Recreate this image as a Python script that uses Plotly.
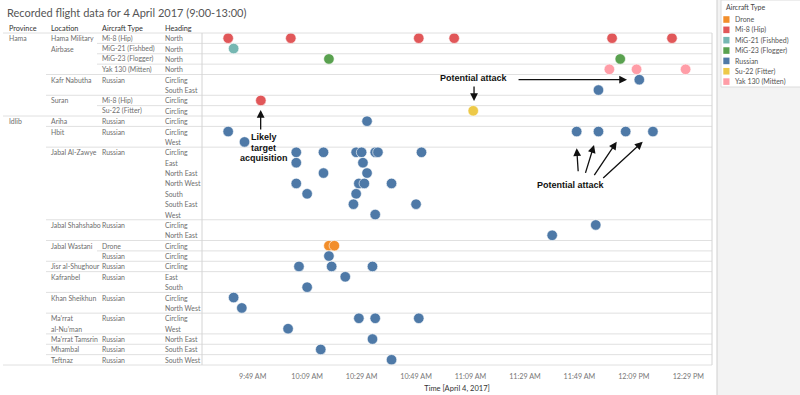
import plotly.graph_objects as go

DATE = "2017-04-04"

# ---- table rows (one entry per chart row, top to bottom) ----
provinces = ["Hama"] * 8 + ["Idlib"] * 24
locations = (["Hama Military Airbase"] * 4 + ["Kafr Nabutha"] * 2 + ["Suran"] * 2
             + ["Ariha"] + ["Hbit"] * 2 + ["Jabal Al-Zawye"] * 7 + ["Jabal Shahshabo"] * 2
             + ["Jabal Wastani"] * 2 + ["Jisr al-Shughour"] + ["Kafranbel"] * 2
             + ["Khan Sheikhun"] * 2 + ["Ma’rrat al-Nu’man"] * 2
             + ["Ma’rrat Tamsrin", "Mhambal", "Teftnaz"])
aircraft = (["Mi-8 (Hip)", "MiG-21 (Fishbed)", "MiG-23 (Flogger)", "Yak 130 (Mitten)",
             "Russian", "Russian", "Mi-8 (Hip)", "Su-22 (Fitter)", "Russian", "Russian", "Russian"]
            + ["Russian"] * 9 + ["Drone"] + ["Russian"] * 11)
headings = ["North"] * 4 + [
    "Circling", "South East", "Circling", "Circling", "Circling", "Circling", "West",
    "Circling", "East", "North East", "North West", "South", "South East", "West",
    "Circling", "North East", "Circling", "Circling", "Circling", "East", "South",
    "Circling", "North West", "Circling", "West", "North East", "South East", "South West"]
location_lines = {"Hama Military Airbase": ["Hama Military", "Airbase"],
                  "Ma’rrat al-Nu’man": ["Ma’rrat", "al-Nu’man"]}

# ---- observations per aircraft type: row number (1 = top) and time ----
drone_rows = [21, 21]
drone_times = ["10:17", "10:19"]
mi8_rows = [1, 1, 1, 1, 1, 1, 7]
mi8_times = ["09:40", "10:03", "10:50", "11:03", "12:01", "12:23", "09:52"]
mig21_rows = [2]
mig21_times = ["09:42"]
mig23_rows = [3, 3]
mig23_times = ["10:17", "12:04"]
russian_rows = [5, 6, 9, 10, 10, 10, 10, 10, 11,
                12, 12, 12, 12, 12, 12, 12, 13, 13, 14, 14, 15, 15, 15, 15,
                16, 16, 17, 17, 18, 19, 20, 22, 23, 23, 23, 24, 25, 26, 27,
                28, 28, 28, 29, 30, 31, 32]
russian_times = ["12:11", "11:56", "10:31", "09:40", "11:48", "11:56", "12:06", "12:16", "09:46",
                 "10:05", "10:15", "10:27", "10:29", "10:34", "10:35", "10:51",
                 "10:05", "10:29:30", "10:15", "10:31", "10:05", "10:28", "10:30", "10:40",
                 "10:09", "10:27", "10:26", "10:49", "10:34", "11:55", "11:39", "10:17",
                 "10:06", "10:18", "10:33", "10:23", "10:09", "09:42", "09:45",
                 "10:28", "10:34", "10:50", "10:02", "10:33", "10:14", "10:40"]
su22_rows = [8]
su22_times = ["11:10"]
yak_rows = [4, 4, 4]
yak_times = ["12:00", "12:10", "12:28"]

type_names = ["Drone", "Mi-8 (Hip)", "MiG-21 (Fishbed)", "MiG-23 (Flogger)",
              "Russian", "Su-22 (Fitter)", "Yak 130 (Mitten)"]
type_colors = ["#F28E2B", "#E15759", "#76B7B2", "#59A14F", "#4E79A7", "#EDC948", "#FF9DA7"]
type_data = [(drone_rows, drone_times), (mi8_rows, mi8_times), (mig21_rows, mig21_times),
             (mig23_rows, mig23_times), (russian_rows, russian_times),
             (su22_rows, su22_times), (yak_rows, yak_times)]

tick_times = ["09:49", "10:09", "10:29", "10:49", "11:09", "11:29", "11:49", "12:09", "12:29"]
tick_labels = ["9:49 AM", "10:09 AM", "10:29 AM", "10:49 AM", "11:09 AM", "11:29 AM",
               "11:49 AM", "12:09 PM", "12:29 PM"]

# ---- layout geometry (pixels) ----
W, H = 800, 395
L, R, T, B = 202, 88, 33, 30
PW, PH = W - L - R, H - T - B
N = len(headings)


def px(xp):
    return (xp - L) / PW


def py(yp):
    return (H - B - yp) / PH


FONT = "Lato"
TXT = "#6e6e6e"
LINE = "#e0e0e0"

fig = go.Figure()
for name, color, (rows, times) in zip(type_names, type_colors, type_data):
    fig.add_trace(go.Scatter(
        x=[f"{DATE} {t}" for t in times], y=rows, mode="markers", name=name,
        marker=dict(size=10.5, color=color, line=dict(width=0.6, color="white")),
        showlegend=False, hoverinfo="x+name"))

shapes = []
annotations = []

# table header
col_x = [7, 49, 100, 163]
for cx, label in zip(col_x, ["Province", "Location", "Aircraft Type", "Heading"]):
    annotations.append(dict(xref="paper", yref="paper", x=px(cx), y=py(28.5), text=label,
                            showarrow=False, xanchor="left", yanchor="middle",
                            font=dict(family=FONT, size=7.3, color="#333333")))

# table labels and separators
for i in range(N):
    r = i + 1
    new_prov = i == 0 or provinces[i] != provinces[i - 1]
    new_loc = new_prov or locations[i] != locations[i - 1]
    new_air = new_loc or aircraft[i] != aircraft[i - 1]
    if new_prov:
        annotations.append(dict(xref="paper", yref="y", x=px(col_x[0]), y=r, text=provinces[i]))
    if new_loc:
        for k, ln in enumerate(location_lines.get(locations[i], [locations[i]])):
            annotations.append(dict(xref="paper", yref="y", x=px(col_x[1]), y=r + k, text=ln))
    if new_air:
        annotations.append(dict(xref="paper", yref="y", x=px(col_x[2]), y=r, text=aircraft[i]))
    annotations.append(dict(xref="paper", yref="y", x=px(col_x[3]), y=r, text=headings[i]))
    if i > 0 and new_air:
        x0 = 3 if new_prov else (46 if new_loc else 97)
        shapes.append(dict(type="line", xref="paper", yref="y", x0=px(x0), x1=1,
                           y0=r - 0.5, y1=r - 0.5, line=dict(color=LINE, width=1), layer="below"))
for a in annotations[4:]:
    a.update(showarrow=False, xanchor="left", yanchor="middle",
             font=dict(family=FONT, size=6.9, color=TXT))

# frame lines
shapes += [
    dict(type="line", xref="paper", yref="paper", x0=px(3), x1=1, y0=1, y1=1,
         line=dict(color=LINE, width=1)),
    dict(type="line", xref="paper", yref="paper", x0=px(3), x1=1, y0=0, y1=0,
         line=dict(color=LINE, width=1)),
    dict(type="line", xref="paper", yref="paper", x0=0, x1=0, y0=0, y1=1,
         line=dict(color="#d4d4d4", width=1)),
    dict(type="line", xref="paper", yref="paper", x0=1, x1=1, y0=0, y1=1,
         line=dict(color="#d4d4d4", width=1)),
    # right pane
    dict(type="rect", xref="paper", yref="paper", x0=px(717), x1=px(801), y0=py(396), y1=py(-1),
         fillcolor="#f3f3f3", line=dict(width=0)),
    dict(type="line", xref="paper", yref="paper", x0=px(717), x1=px(717), y0=py(396), y1=py(-1),
         line=dict(color="#cfcfcf", width=1)),
    dict(type="rect", xref="paper", yref="paper", x0=px(721), x1=px(801), y0=py(87), y1=py(0),
         fillcolor="white", line=dict(color="#dcdcdc", width=1)),
]

# legend (drawn)
annotations.append(dict(xref="paper", yref="paper", x=px(724), y=py(7), text="Aircraft Type",
                        showarrow=False, xanchor="left", yanchor="middle",
                        font=dict(family=FONT, size=7, color="#444444")))
for k, (name, color) in enumerate(zip(type_names, type_colors)):
    yc = 19.5 + k * 10.35
    shapes.append(dict(type="rect", xref="paper", yref="paper", x0=px(723.3), x1=px(729.5),
                       y0=py(yc + 3.3), y1=py(yc - 3.3), fillcolor=color, line=dict(width=0)))
    annotations.append(dict(xref="paper", yref="paper", x=px(732.5), y=py(yc), text=name,
                            showarrow=False, xanchor="left", yanchor="middle",
                            font=dict(family=FONT, size=7, color="#555555")))

# callouts
CF = dict(family="Liberation Sans", size=9, color="#111111", weight="bold")
callout_texts = [("Potential attack", "11:10:18", 4.87),
                 ("Likely", "09:53:09", 10.5), ("target", "09:53:09", 11.56),
                 ("acquisition", "09:53:09", 12.58),
                 ("Potential attack", "11:45:55", 15.15)]
for text, t, r in callout_texts:
    annotations.append(dict(x=f"{DATE} {t}", y=r, text=text, showarrow=False,
                            xanchor="center", yanchor="middle", font=CF))
arrows = [("12:06:30", 5.0, -110, 0), ("11:10:18", 7.05, 0, -16),
          ("09:51:56", 7.92, 0, 21),
          ("11:48:00", 11.61, 1.6, 24.4), ("11:54:22", 11.3, -9, 29.3),
          ("12:02:42", 10.98, -23.4, 35), ("12:12:15", 10.98, -41, 37.6)]
for t, r, ax, ay in arrows:
    annotations.append(dict(x=f"{DATE} {t}", y=r, ax=ax, ay=ay, text="", showarrow=True,
                            arrowhead=2, arrowsize=1.2, arrowwidth=1.3, arrowcolor="#111111"))

# title
annotations.append(dict(xref="paper", yref="paper", x=px(5), y=py(12.5),
                        text="Recorded flight data for 4 April 2017 (9:00-13:00)",
                        showarrow=False, xanchor="left", yanchor="middle",
                        font=dict(family=FONT, size=11, color="#555555")))

fig.update_layout(
    width=W, height=H, margin=dict(l=L, r=R, t=T, b=B, pad=0, autoexpand=False),
    paper_bgcolor="white", plot_bgcolor="white",
    shapes=shapes, annotations=annotations, showlegend=False,
    xaxis=dict(type="date", range=[f"{DATE} 09:30:23", f"{DATE} 12:37:42"],
               tickvals=[f"{DATE} {t}" for t in tick_times], ticktext=tick_labels,
               showgrid=False, zeroline=False, showline=False, automargin=False,
               ticks="outside", ticklen=4, tickcolor="rgba(0,0,0,0)",
               tickfont=dict(family=FONT, size=7.2, color="#777777"),
               title=dict(text="Time [April 4, 2017]", standoff=6,
                          font=dict(family=FONT, size=7.5, color="#333333"))),
    yaxis=dict(range=[N + 0.5, 0.5], showgrid=False, zeroline=False, showticklabels=False,
               showline=False, ticks="", automargin=False),
)

fig.write_html("out.html", config={"displayModeBar": False},
               post_script="document.body.style.margin='0px';"
                           "document.body.style.overflow='hidden';")
